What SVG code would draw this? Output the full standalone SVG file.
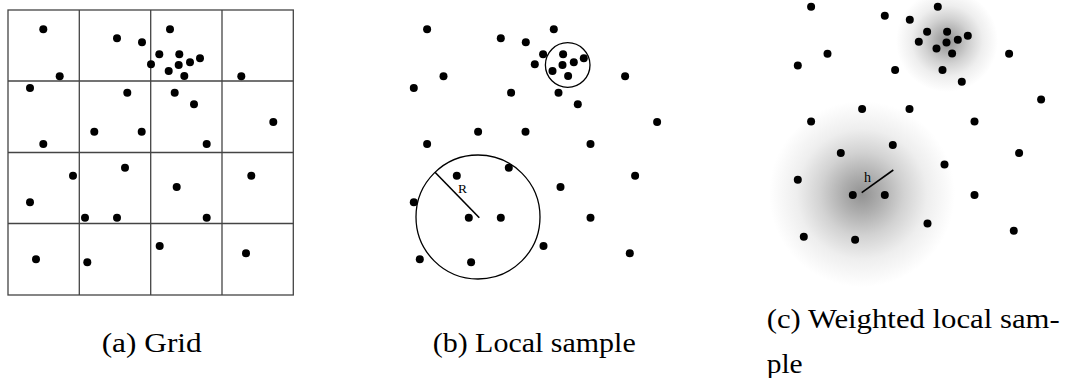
<svg xmlns="http://www.w3.org/2000/svg" xmlns:xlink="http://www.w3.org/1999/xlink" width="1070" height="378" viewBox="0 0 1070 378">
<style>
.pt{fill:#000}
.grid{fill:none;stroke:#444;stroke-width:1.3}
.ring{fill:none;stroke:#000;stroke-width:1.3}
.rad{stroke:#000;stroke-width:1.6}
.cap{font-family:Liberation Serif, Tinos, Times New Roman, Times, Noto Serif, DejaVu Serif, FreeSerif, serif;font-size:27.6px;fill:#000}
.lbl{font-family:Liberation Serif, Tinos, Times New Roman, Times, Noto Serif, DejaVu Serif, FreeSerif, serif;fill:#000}
</style>
<defs>
<radialGradient id="blob">
<stop offset="0" stop-color="#929292"/>
<stop offset="0.2" stop-color="#adadad"/>
<stop offset="0.45" stop-color="#d2d2d2"/>
<stop offset="0.7" stop-color="#eeeeee"/>
<stop offset="1" stop-color="#ffffff"/>
</radialGradient>
<g id="pts">
<circle class="pt" cx="43.3" cy="29.3" r="4"/>
<circle class="pt" cx="117" cy="38.3" r="4"/>
<circle class="pt" cx="142" cy="42.3" r="4"/>
<circle class="pt" cx="170" cy="29.3" r="4"/>
<circle class="pt" cx="159.3" cy="54.3" r="4"/>
<circle class="pt" cx="179.3" cy="54.3" r="4"/>
<circle class="pt" cx="200" cy="58.3" r="4"/>
<circle class="pt" cx="190" cy="62.3" r="4"/>
<circle class="pt" cx="178.7" cy="65" r="4"/>
<circle class="pt" cx="151" cy="64.3" r="4"/>
<circle class="pt" cx="168.7" cy="71" r="4"/>
<circle class="pt" cx="184.3" cy="76" r="4"/>
<circle class="pt" cx="59.7" cy="76.3" r="4"/>
<circle class="pt" cx="241.3" cy="76.3" r="4"/>
<circle class="pt" cx="30" cy="88" r="4"/>
<circle class="pt" cx="127.3" cy="92.7" r="4"/>
<circle class="pt" cx="174.7" cy="92.7" r="4"/>
<circle class="pt" cx="194" cy="104.3" r="4"/>
<circle class="pt" cx="273.3" cy="122" r="4"/>
<circle class="pt" cx="94.3" cy="131.7" r="4"/>
<circle class="pt" cx="141.7" cy="131.7" r="4"/>
<circle class="pt" cx="43.3" cy="144" r="4"/>
<circle class="pt" cx="206.7" cy="144" r="4"/>
<circle class="pt" cx="73" cy="175.7" r="4"/>
<circle class="pt" cx="125" cy="167.7" r="4"/>
<circle class="pt" cx="30" cy="202.3" r="4"/>
<circle class="pt" cx="85" cy="217.7" r="4"/>
<circle class="pt" cx="117" cy="217.7" r="4"/>
<circle class="pt" cx="176.7" cy="187" r="4"/>
<circle class="pt" cx="206.7" cy="217.7" r="4"/>
<circle class="pt" cx="251.3" cy="175.7" r="4"/>
<circle class="pt" cx="36" cy="259.3" r="4"/>
<circle class="pt" cx="87.3" cy="262.3" r="4"/>
<circle class="pt" cx="159.7" cy="246" r="4"/>
<circle class="pt" cx="246" cy="253.3" r="4"/>
</g>
</defs>

<g id="panel-a">
<rect class="grid" x="8" y="10" width="285.3" height="285"/>
<line class="grid" x1="79.3" y1="10" x2="79.3" y2="295"/>
<line class="grid" x1="150.7" y1="10" x2="150.7" y2="295"/>
<line class="grid" x1="222" y1="10" x2="222" y2="295"/>
<line class="grid" x1="8" y1="81" x2="293.3" y2="81"/>
<line class="grid" x1="8" y1="152.5" x2="293.3" y2="152.5"/>
<line class="grid" x1="8" y1="223.5" x2="293.3" y2="223.5"/>
<use xlink:href="#pts"/>
<text class="cap" x="101.7" y="352" textLength="100" lengthAdjust="spacingAndGlyphs">(a) Grid</text>
</g>

<g id="panel-b">
<use xlink:href="#pts" transform="translate(383.8,0)"/>
<circle class="ring" cx="567.7" cy="65" r="22.3"/>
<circle class="ring" cx="478" cy="217" r="62"/>
<line class="rad" x1="435" y1="172.3" x2="479.3" y2="217.7"/>
<text class="lbl" x="458" y="192.7" font-size="13.5">R</text>
<text class="cap" x="432.7" y="352" textLength="203" lengthAdjust="spacingAndGlyphs">(b) Local sample</text>
</g>

<g id="panel-c">
<circle cx="947" cy="41" r="51" fill="url(#blob)"/>
<circle cx="862" cy="194" r="93" fill="url(#blob)"/>
<use xlink:href="#pts" transform="translate(767.8,-22.6)"/>
<line class="rad" x1="861.7" y1="192.7" x2="893.3" y2="170"/>
<text class="lbl" x="864" y="181.7" font-size="14">h</text>
<text class="cap" x="766.7" y="328.3" textLength="293" lengthAdjust="spacingAndGlyphs">(c) Weighted local sam-</text>
<text class="cap" x="766.7" y="373.3" textLength="36" lengthAdjust="spacingAndGlyphs">ple</text>
</g>
</svg>
